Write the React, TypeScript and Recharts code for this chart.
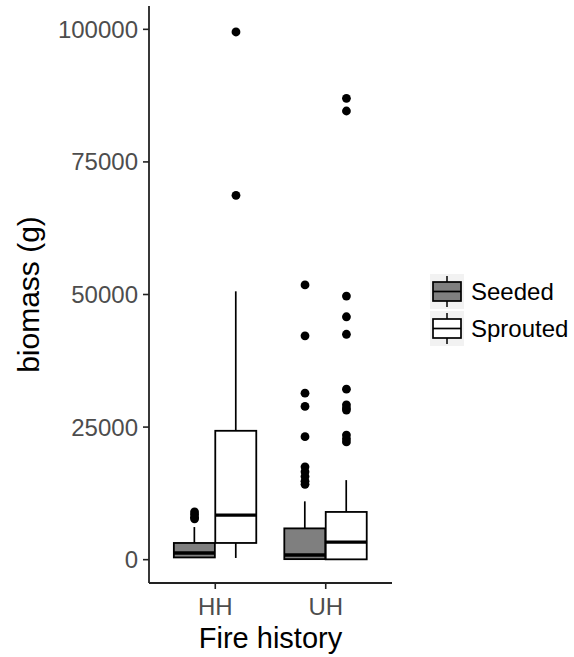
import React from 'react'
import {
  ComposedChart,
  Bar,
  Scatter,
  XAxis,
  YAxis,
  Legend,
} from 'recharts'

const groups = ['HH', 'UH']
const seriesNames = ['Seeded', 'Sprouted']

// [min, q1, median, q3, max] per fire history group
const seededStats = [
  [400, 420, 1250, 3150, 6150],
  [0, 100, 880, 5900, 11000],
]
const sproutedStats = [
  [320, 3150, 8400, 24300, 50600],
  [0, 60, 3300, 9000, 15000],
]

const seededOutliers = [
  [9000, 8500, 8000, 7700],
  [51800, 42200, 31400, 28900, 23200, 17500, 16600, 15700, 14800, 14200],
]
const sproutedOutliers = [
  [99500, 68700],
  [87000, 84600, 49700, 45800, 42500, 32150, 29200, 28600, 28200, 23500, 22800, 22200],
]

const yTicks = [0, 25000, 50000, 75000, 100000]

const SEEDED_FILL = '#7f7f7f'
const SPROUTED_FILL = '#ffffff'
const TICK_COLOR = '#4d4d4d'
const FONT = '"Liberation Sans", Arial, sans-serif'

// ggplot-style dodge: 0.75 wide per group, two boxes
const dodge = 0.75 / 4

const statsBySeries = [seededStats, sproutedStats]
const outliersBySeries = [seededOutliers, sproutedOutliers]

const boxRows = groups.flatMap((g, gi) =>
  seriesNames.map((s, si) => ({
    group: g,
    series: s,
    x: gi + 1 + (si === 0 ? -dodge : dodge),
    stats: statsBySeries[si][gi],
    box: [statsBySeries[si][gi][1], statsBySeries[si][gi][3]],
  }))
)

const outlierRows = groups.flatMap((g, gi) =>
  seriesNames.flatMap((s, si) =>
    outliersBySeries[si][gi].map((v) => ({
      x: gi + 1 + (si === 0 ? -dodge : dodge),
      y: v,
    }))
  )
)

function BoxShape(props: any) {
  const { x, y, width, height, payload } = props
  const top = Math.min(y, y + height)
  const h = Math.abs(height)
  const [lo, q1, med, q3, hi] = payload.stats
  const toPx = (v: number) => top + ((q3 - v) / (q3 - q1)) * h
  const cx = x + width / 2
  const fill = payload.series === 'Seeded' ? SEEDED_FILL : SPROUTED_FILL
  return (
    <g>
      <line x1={cx} x2={cx} y1={toPx(hi)} y2={top} stroke="#000" strokeWidth={1.7} />
      <line x1={cx} x2={cx} y1={top + h} y2={toPx(lo)} stroke="#000" strokeWidth={1.7} />
      <rect x={x} y={top} width={width} height={h} fill={fill} stroke="#000" strokeWidth={1.8} />
      <line x1={x} x2={x + width} y1={toPx(med)} y2={toPx(med)} stroke="#000" strokeWidth={3.4} />
    </g>
  )
}

function Dot(props: any) {
  return <circle cx={props.cx} cy={props.cy} r={4.4} fill="#000" />
}

function LegendKeys() {
  const fills = [SEEDED_FILL, SPROUTED_FILL]
  return (
    <svg width={144} height={74} style={{ display: 'block', fontFamily: FONT }}>
      {seriesNames.map((name, i) => {
        const top = i * 37
        return (
          <g key={name}>
            <rect x={2} y={top} width={34} height={35} fill="#f2f2f2" />
            <line x1={19} x2={19} y1={top + 2} y2={top + 33} stroke="#000" strokeWidth={1.5} />
            <rect x={5} y={top + 8} width={28} height={19} fill={fills[i]} stroke="#000" strokeWidth={1.7} />
            <line x1={5} x2={33} y1={top + 17.5} y2={top + 17.5} stroke="#000" strokeWidth={1.7} />
            <text x={43} y={top + 17.5} dy="0.36em" fontSize={24} fill="#000">
              {name}
            </text>
          </g>
        )
      })}
    </svg>
  )
}

export default function App() {
  return (
    <div style={{ position: 'absolute', left: 0, top: 0, fontFamily: FONT }}>
      <ComposedChart
        width={574}
        height={657}
        data={boxRows}
        margin={{ top: 6, right: 38, bottom: 0, left: 0 }}
      >
        <XAxis
          dataKey="x"
          type="number"
          domain={[0.4, 2.6]}
          ticks={[1, 2]}
          allowDataOverflow
          tickFormatter={(v) => groups[v - 1]}
          height={74}
          tickSize={6}
          tickMargin={9}
          tick={{ fill: TICK_COLOR, fontSize: 24 }}
          tickLine={{ stroke: '#222', strokeWidth: 1.6 }}
          axisLine={{ stroke: '#222', strokeWidth: 1.8 }}
          label={{
            content: (p: any) => (
              <text
                x={p.viewBox.x + p.viewBox.width / 2}
                y={p.viewBox.y + 65}
                textAnchor="middle"
                fontSize={29}
                fill="#000"
              >
                Fire history
              </text>
            ),
          }}
        />
        <YAxis
          type="number"
          domain={[-4400, 104400]}
          ticks={yTicks}
          allowDataOverflow
          width={149}
          tickSize={6}
          tickMargin={5}
          tick={{ fill: TICK_COLOR, fontSize: 24 }}
          tickLine={{ stroke: '#222', strokeWidth: 1.6 }}
          axisLine={{ stroke: '#222', strokeWidth: 1.8 }}
          label={{
            content: (p: any) => (
              <text
                x={28}
                y={p.viewBox.y + p.viewBox.height / 2}
                transform={`rotate(-90 28 ${p.viewBox.y + p.viewBox.height / 2})`}
                textAnchor="middle"
                dy="0.36em"
                fontSize={30}
                fill="#000"
              >
                biomass (g)
              </text>
            ),
          }}
        />
        <Bar dataKey="box" barSize={41} shape={<BoxShape />} isAnimationActive={false} />
        <Scatter data={outlierRows} dataKey="y" shape={<Dot />} isAnimationActive={false} />
        <Legend
          layout="vertical"
          align="right"
          verticalAlign="top"
          width={144}
          wrapperStyle={{ left: 428, top: 274 }}
          content={() => <LegendKeys />}
        />
      </ComposedChart>
    </div>
  )
}
